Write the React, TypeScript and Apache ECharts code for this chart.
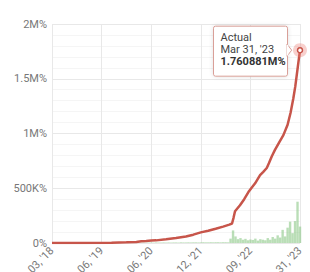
import React, { useEffect, useRef } from "react";
import * as echarts from "echarts";

// x positions are index steps 0..100 along the period; tick labels as visible in the reference
const xTickLabels = ["03, '18", "06, '19", "06, '20", "12, '21", "09, '22", "31, '23"];
const yTickLabels: Record<number, string> = { 0: "0%", 500: "500K%", 1000: "1M%", 1500: "1.5M%", 2000: "2M%" };

// cumulative "Actual" line, values in K%
const lineX = [0, 12, 24, 30, 34, 36, 38, 40, 42, 46, 50, 54, 57, 60, 63, 66, 69, 71.5, 72.6, 73.2, 73.8, 75.8, 77.5, 79.2, 80.5, 81.9, 83.9, 85.2, 86.6, 87.5, 88.6, 89.9, 91.5, 93.3, 95, 96.2, 97.3, 98.1, 98.7, 99.3, 100];
const lineY = [1, 1, 3, 6, 10, 15, 18, 22, 24, 34, 46, 60, 76, 97, 112, 130, 150, 168, 178, 230, 290, 345, 400, 465, 505, 545, 620, 650, 685, 730, 790, 850, 915, 985, 1080, 1190, 1320, 1430, 1535, 1640, 1760.881];

// daily change bars, values in K%, one per index 0..100
const barValues = [
  0, 0, 0, 0, 0, 0, 0, 0, 0, 0,
  0, 0, 0, 0, 0, 0, 0, 0, 0, 0,
  0, 0, 0, 1, 1, 2, 2, 1, 2, 3,
  2, 3, 3, 2, 4, 3, 3, 4, 3, 4,
  4, 3, 5, 4, 4, 5, 4, 5, 4, 5,
  5, 4, 6, 5, 5, 6, 5, 6, 6, 5,
  6, 7, 6, 6, 7, 6, 7, 7, 6, 7,
  7, 6, 40, 115, 60, 35, 45, 30, 38, 25,
  32, 28, 40, 22, 35, 30, 25, 45, 30, 55,
  40, 70, 50, 120, 60, 140, 195, 90, 200, 377,
  150,
];

const seriesName = "Actual";
const lastLabelDate = "Mar 31, '23";

const FONT = "Roboto, 'Noto Sans', sans-serif";

function fmtM(vK: number): string {
  return (vK / 1000).toFixed(6).replace(/0+$/, "") + "M%";
}

export default function App() {
  const ref = useRef<HTMLDivElement>(null);
  useEffect(() => {
    if (!ref.current) return;
    const chart = echarts.init(ref.current, undefined, { renderer: "svg" });
    const option: any = {
      animation: false,
      textStyle: { fontFamily: FONT },
      grid: { left: 52, right: 10, top: 24, bottom: 29, containLabel: false, outerBoundsMode: "none" },
      xAxis: {
        type: "value",
        min: 0,
        max: 100,
        interval: 20,
        axisLine: { show: false },
        axisTick: { show: false },
        splitLine: { show: true, lineStyle: { color: "#e8e8e8", width: 1 } },
        axisLabel: {
          rotate: 45,
          fontSize: 11,
          color: "#777",
          margin: 6,
          fontFamily: FONT,
          formatter: (v: number) => xTickLabels[Math.round(v / 20)] ?? "",
        },
      },
      yAxis: {
        type: "value",
        min: 0,
        max: 2000,
        interval: 500,
        axisLine: { show: false },
        axisTick: { show: false },
        splitLine: { show: true, lineStyle: { color: "#e8e8e8", width: 1 } },
        minorTick: { show: false, splitNumber: 5 },
        minorSplitLine: { show: true, lineStyle: { color: "#f5f5f5", width: 1 } },
        axisLabel: {
          fontSize: 11,
          color: "#777",
          margin: 5,
          fontFamily: FONT,
          formatter: (v: number) => yTickLabels[v] ?? "",
        },
      },
      series: [
        {
          type: "bar",
          name: "Daily",
          data: barValues.map((v, i) => [i, v]),
          barWidth: 2.4,
          itemStyle: { color: "rgba(140,200,135,0.6)" },
          silent: true,
        },
        {
          type: "line",
          name: seriesName,
          data: lineX.map((x, i) => [x, lineY[i]]),
          showSymbol: false,
          symbol: "none",
          lineStyle: { color: "#c7554a", width: 2.5 },
          z: 5,
        },
      ],
    };
    chart.setOption(option);

    const lx = lineX[lineX.length - 1];
    const ly = lineY[lineY.length - 1];
    const [px, py] = chart.convertToPixel({ xAxisIndex: 0, yAxisIndex: 0 }, [lx, ly]) as number[];
    const boxRight = px - 12.5;
    const boxW = 74;
    const boxLeft = boxRight - boxW;
    chart.setOption({
      graphic: [
        {
          type: "rect",
          shape: { x: boxLeft, y: py - 24, width: boxW, height: 50, r: 2 },
          style: { fill: "#fff", stroke: "#d99f98", lineWidth: 1, shadowBlur: 4, shadowColor: "rgba(0,0,0,0.12)" },
          z: 100,
        },
        {
          type: "polygon",
          shape: { points: [[boxRight - 0.5, py - 6], [px - 8.3, py], [boxRight - 0.5, py + 6]] },
          style: { fill: "#fff", stroke: "#d99f98", lineWidth: 1 },
          z: 101,
        },
        {
          type: "line",
          shape: { x1: boxRight, y1: py - 5.3, x2: boxRight, y2: py + 5.3 },
          style: { stroke: "#fff", lineWidth: 1.5 },
          z: 102,
        },
        {
          type: "text",
          x: boxLeft + 7,
          y: py - 12.5,
          style: { text: seriesName, fill: "#444", font: `11px ${FONT}`, verticalAlign: "middle" },
          z: 103,
        },
        {
          type: "text",
          x: boxLeft + 7,
          y: py - 0.7,
          style: { text: lastLabelDate, fill: "#444", font: `11px ${FONT}`, verticalAlign: "middle" },
          z: 103,
        },
        {
          type: "text",
          x: boxLeft + 7,
          y: py + 11,
          style: { text: fmtM(ly), fill: "#333", font: `bold 11px ${FONT}`, verticalAlign: "middle" },
          z: 103,
        },
        {
          type: "circle",
          shape: { cx: px, cy: py, r: 7 },
          style: { fill: "rgba(235,120,112,0.35)" },
          z: 104,
        },
        {
          type: "circle",
          shape: { cx: px, cy: py, r: 2.5 },
          style: { fill: "#fff", stroke: "#c7554a", lineWidth: 1.5 },
          z: 105,
        },
      ],
    });
    return () => chart.dispose();
  }, []);
  return (
    <div
      ref={ref}
      style={{ position: "absolute", left: 0, top: 0, width: 310, height: 272, background: "#fff" }}
    />
  );
}
